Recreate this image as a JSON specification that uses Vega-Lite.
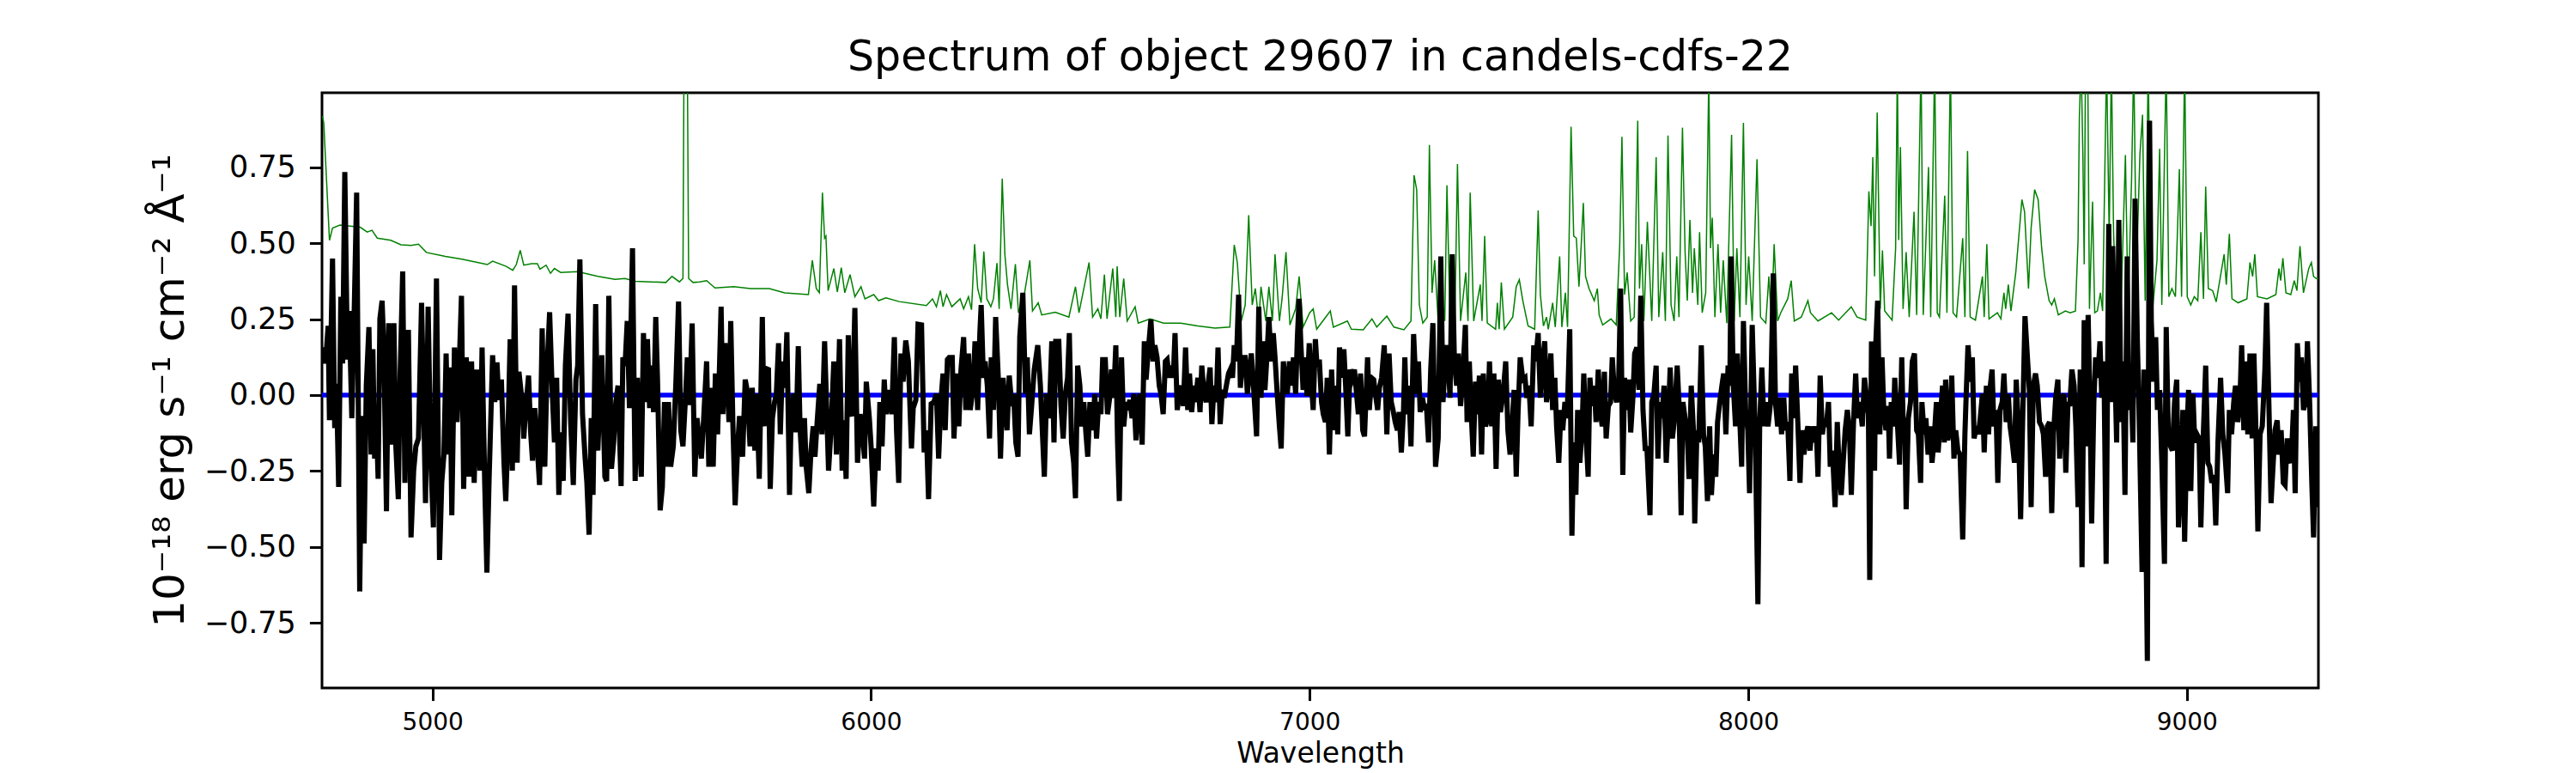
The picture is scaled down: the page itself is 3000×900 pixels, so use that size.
{
  "$schema": "https://vega.github.io/schema/vega-lite/v6.json",
  "width": 2325,
  "height": 693,
  "autosize": {"type": "none"},
  "padding": {"left": 375, "top": 108, "right": 300, "bottom": 99},
  "background": "white",
  "title": {
    "text": "Spectrum of object 29607 in candels-cdfs-22",
    "font": "DejaVu Sans",
    "fontSize": 49,
    "fontWeight": "normal",
    "color": "black",
    "anchor": "middle",
    "offset": 16
  },
  "datasets": {
    "noise": [
      {"w":4749,"e":0.92},{"w":4752,"e":0.897},{"w":4765,"e":0.51},{"w":4772,"e":0.55},{"w":4789,"e":0.56},{"w":4835,"e":0.553},{"w":4851,"e":0.537},{"w":4862,"e":0.543},{"w":4874,"e":0.517},{"w":4905,"e":0.51},{"w":4928,"e":0.495},{"w":4951,"e":0.493},{"w":4968,"e":0.497},{"w":4986,"e":0.47},{"w":5029,"e":0.457},{"w":5067,"e":0.448},{"w":5125,"e":0.43},{"w":5137,"e":0.441},{"w":5168,"e":0.424},{"w":5183,"e":0.411},{"w":5191,"e":0.43},{"w":5200,"e":0.477},{"w":5208,"e":0.428},{"w":5226,"e":0.433},{"w":5239,"e":0.433},{"w":5245,"e":0.415},{"w":5259,"e":0.428},{"w":5269,"e":0.401},{"w":5278,"e":0.417},{"w":5292,"e":0.404},{"w":5331,"e":0.407},{"w":5377,"e":0.391},{"w":5416,"e":0.381},{"w":5439,"e":0.384},{"w":5462,"e":0.375},{"w":5532,"e":0.371},{"w":5546,"e":0.391},{"w":5563,"e":0.373},{"w":5571,"e":0.384},{"w":5575,"e":1.6},{"w":5579,"e":1.6},{"w":5584,"e":0.384},{"w":5594,"e":0.371},{"w":5609,"e":0.373},{"w":5625,"e":0.377},{"w":5644,"e":0.353},{"w":5687,"e":0.357},{"w":5725,"e":0.351},{"w":5768,"e":0.351},{"w":5803,"e":0.337},{"w":5857,"e":0.331},{"w":5866,"e":0.444},{"w":5875,"e":0.351},{"w":5882,"e":0.337},{"w":5889,"e":0.667},{"w":5894,"e":0.517},{"w":5897,"e":0.524},{"w":5902,"e":0.344},{"w":5915,"e":0.417},{"w":5923,"e":0.34},{"w":5932,"e":0.42},{"w":5940,"e":0.337},{"w":5952,"e":0.397},{"w":5963,"e":0.324},{"w":5977,"e":0.357},{"w":5986,"e":0.317},{"w":6006,"e":0.331},{"w":6017,"e":0.311},{"w":6034,"e":0.32},{"w":6064,"e":0.308},{"w":6126,"e":0.295},{"w":6140,"e":0.317},{"w":6149,"e":0.291},{"w":6158,"e":0.344},{"w":6164,"e":0.291},{"w":6172,"e":0.331},{"w":6184,"e":0.291},{"w":6203,"e":0.317},{"w":6211,"e":0.284},{"w":6222,"e":0.324},{"w":6229,"e":0.281},{"w":6236,"e":0.497},{"w":6243,"e":0.351},{"w":6251,"e":0.304},{"w":6257,"e":0.473},{"w":6264,"e":0.317},{"w":6273,"e":0.291},{"w":6279,"e":0.317},{"w":6287,"e":0.435},{"w":6292,"e":0.284},{"w":6299,"e":0.713},{"w":6305,"e":0.464},{"w":6311,"e":0.364},{"w":6319,"e":0.284},{"w":6329,"e":0.431},{"w":6336,"e":0.271},{"w":6350,"e":0.337},{"w":6362,"e":0.444},{"w":6368,"e":0.277},{"w":6381,"e":0.304},{"w":6389,"e":0.264},{"w":6420,"e":0.273},{"w":6451,"e":0.257},{"w":6466,"e":0.357},{"w":6474,"e":0.271},{"w":6497,"e":0.437},{"w":6505,"e":0.257},{"w":6517,"e":0.284},{"w":6524,"e":0.251},{"w":6532,"e":0.397},{"w":6538,"e":0.251},{"w":6551,"e":0.417},{"w":6558,"e":0.257},{"w":6561,"e":0.424},{"w":6567,"e":0.257},{"w":6576,"e":0.384},{"w":6584,"e":0.244},{"w":6602,"e":0.291},{"w":6609,"e":0.237},{"w":6636,"e":0.251},{"w":6667,"e":0.237},{"w":6706,"e":0.237},{"w":6745,"e":0.228},{"w":6784,"e":0.221},{"w":6818,"e":0.224},{"w":6828,"e":0.495},{"w":6835,"e":0.437},{"w":6844,"e":0.244},{"w":6853,"e":0.297},{"w":6861,"e":0.593},{"w":6869,"e":0.297},{"w":6876,"e":0.351},{"w":6884,"e":0.244},{"w":6889,"e":0.357},{"w":6900,"e":0.244},{"w":6907,"e":0.357},{"w":6915,"e":0.244},{"w":6921,"e":0.464},{"w":6931,"e":0.244},{"w":6937,"e":0.317},{"w":6946,"e":0.471},{"w":6955,"e":0.231},{"w":6968,"e":0.284},{"w":6976,"e":0.391},{"w":6985,"e":0.224},{"w":7000,"e":0.271},{"w":7008,"e":0.284},{"w":7016,"e":0.217},{"w":7047,"e":0.277},{"w":7054,"e":0.224},{"w":7086,"e":0.244},{"w":7095,"e":0.217},{"w":7122,"e":0.215},{"w":7142,"e":0.251},{"w":7153,"e":0.224},{"w":7176,"e":0.26},{"w":7192,"e":0.224},{"w":7215,"e":0.215},{"w":7231,"e":0.244},{"w":7238,"e":0.724},{"w":7244,"e":0.677},{"w":7250,"e":0.297},{"w":7258,"e":0.237},{"w":7268,"e":0.257},{"w":7273,"e":0.824},{"w":7279,"e":0.337},{"w":7285,"e":0.444},{"w":7293,"e":0.244},{"w":7300,"e":0.324},{"w":7308,"e":0.244},{"w":7313,"e":0.691},{"w":7320,"e":0.244},{"w":7326,"e":0.324},{"w":7331,"e":0.244},{"w":7337,"e":0.761},{"w":7344,"e":0.244},{"w":7356,"e":0.404},{"w":7361,"e":0.244},{"w":7366,"e":0.667},{"w":7374,"e":0.244},{"w":7389,"e":0.364},{"w":7393,"e":0.244},{"w":7399,"e":0.524},{"w":7405,"e":0.237},{"w":7424,"e":0.217},{"w":7428,"e":0.304},{"w":7432,"e":0.217},{"w":7437,"e":0.371},{"w":7444,"e":0.217},{"w":7463,"e":0.257},{"w":7471,"e":0.357},{"w":7478,"e":0.38},{"w":7486,"e":0.311},{"w":7498,"e":0.228},{"w":7513,"e":0.217},{"w":7521,"e":0.608},{"w":7526,"e":0.331},{"w":7533,"e":0.228},{"w":7540,"e":0.257},{"w":7544,"e":0.217},{"w":7554,"e":0.304},{"w":7560,"e":0.224},{"w":7570,"e":0.457},{"w":7575,"e":0.224},{"w":7583,"e":0.337},{"w":7588,"e":0.224},{"w":7596,"e":0.884},{"w":7602,"e":0.524},{"w":7608,"e":0.517},{"w":7614,"e":0.357},{"w":7619,"e":0.491},{"w":7624,"e":0.633},{"w":7629,"e":0.391},{"w":7637,"e":0.351},{"w":7649,"e":0.311},{"w":7656,"e":0.351},{"w":7660,"e":0.264},{"w":7668,"e":0.231},{"w":7687,"e":0.251},{"w":7699,"e":0.231},{"w":7707,"e":0.497},{"w":7712,"e":0.851},{"w":7718,"e":0.331},{"w":7724,"e":0.404},{"w":7732,"e":0.244},{"w":7740,"e":0.257},{"w":7748,"e":0.904},{"w":7752,"e":0.351},{"w":7757,"e":0.497},{"w":7762,"e":0.244},{"w":7770,"e":0.571},{"w":7776,"e":0.377},{"w":7780,"e":0.244},{"w":7790,"e":0.784},{"w":7796,"e":0.257},{"w":7805,"e":0.471},{"w":7811,"e":0.244},{"w":7817,"e":0.855},{"w":7824,"e":0.297},{"w":7831,"e":0.244},{"w":7837,"e":0.457},{"w":7842,"e":0.257},{"w":7850,"e":0.881},{"w":7856,"e":0.471},{"w":7861,"e":0.311},{"w":7867,"e":0.577},{"w":7873,"e":0.337},{"w":7877,"e":0.484},{"w":7885,"e":0.297},{"w":7889,"e":0.537},{"w":7895,"e":0.271},{"w":7903,"e":0.337},{"w":7910,"e":1.05},{"w":7914,"e":0.484},{"w":7918,"e":0.584},{"w":7924,"e":0.257},{"w":7931,"e":0.497},{"w":7937,"e":0.271},{"w":7943,"e":0.444},{"w":7951,"e":0.237},{"w":7962,"e":0.857},{"w":7968,"e":0.244},{"w":7974,"e":0.484},{"w":7981,"e":0.257},{"w":7989,"e":0.897},{"w":7995,"e":0.297},{"w":8001,"e":0.457},{"w":8009,"e":0.244},{"w":8020,"e":0.777},{"w":8028,"e":0.257},{"w":8040,"e":0.237},{"w":8047,"e":0.391},{"w":8053,"e":0.244},{"w":8059,"e":0.497},{"w":8067,"e":0.244},{"w":8074,"e":0.271},{"w":8090,"e":0.317},{"w":8098,"e":0.377},{"w":8105,"e":0.244},{"w":8121,"e":0.257},{"w":8136,"e":0.311},{"w":8142,"e":0.271},{"w":8159,"e":0.244},{"w":8190,"e":0.271},{"w":8206,"e":0.247},{"w":8235,"e":0.291},{"w":8248,"e":0.257},{"w":8268,"e":0.247},{"w":8275,"e":0.671},{"w":8280,"e":0.557},{"w":8284,"e":0.784},{"w":8288,"e":0.391},{"w":8294,"e":0.931},{"w":8301,"e":0.284},{"w":8306,"e":0.477},{"w":8311,"e":0.277},{"w":8328,"e":0.247},{"w":8336,"e":0.484},{"w":8340,"e":1.1},{"w":8343,"e":0.511},{"w":8347,"e":0.817},{"w":8353,"e":0.284},{"w":8360,"e":0.471},{"w":8367,"e":0.257},{"w":8378,"e":0.604},{"w":8384,"e":0.264},{"w":8394,"e":1.1},{"w":8399,"e":0.264},{"w":8411,"e":0.751},{"w":8416,"e":0.257},{"w":8425,"e":1.1},{"w":8431,"e":0.271},{"w":8436,"e":0.257},{"w":8448,"e":0.657},{"w":8453,"e":0.271},{"w":8461,"e":1.1},{"w":8467,"e":0.271},{"w":8475,"e":0.257},{"w":8489,"e":0.517},{"w":8494,"e":0.257},{"w":8500,"e":0.804},{"w":8506,"e":0.257},{"w":8518,"e":0.247},{"w":8534,"e":0.391},{"w":8538,"e":0.257},{"w":8544,"e":0.497},{"w":8549,"e":0.251},{"w":8568,"e":0.271},{"w":8576,"e":0.251},{"w":8583,"e":0.337},{"w":8587,"e":0.284},{"w":8593,"e":0.364},{"w":8599,"e":0.277},{"w":8610,"e":0.404},{"w":8624,"e":0.644},{"w":8630,"e":0.604},{"w":8639,"e":0.351},{"w":8645,"e":0.551},{"w":8653,"e":0.677},{"w":8661,"e":0.644},{"w":8669,"e":0.484},{"w":8676,"e":0.391},{"w":8686,"e":0.311},{"w":8692,"e":0.297},{"w":8698,"e":0.317},{"w":8707,"e":0.264},{"w":8723,"e":0.277},{"w":8734,"e":0.271},{"w":8746,"e":0.277},{"w":8752,"e":0.511},{"w":8755,"e":0.917},{"w":8759,"e":1.1},{"w":8763,"e":0.791},{"w":8766,"e":0.431},{"w":8769,"e":1.1},{"w":8774,"e":1.1},{"w":8778,"e":0.284},{"w":8785,"e":0.637},{"w":8790,"e":0.271},{"w":8796,"e":0.277},{"w":8803,"e":0.337},{"w":8808,"e":0.277},{"w":8817,"e":1.1},{"w":8823,"e":0.524},{"w":8828,"e":1.1},{"w":8833,"e":0.537},{"w":8839,"e":0.277},{"w":8850,"e":0.297},{"w":8860,"e":0.791},{"w":8866,"e":0.284},{"w":8874,"e":0.711},{"w":8879,"e":1.1},{"w":8885,"e":0.404},{"w":8893,"e":0.791},{"w":8899,"e":0.924},{"w":8905,"e":0.311},{"w":8912,"e":1.1},{"w":8918,"e":0.337},{"w":8922,"e":0.284},{"w":8932,"e":0.444},{"w":8938,"e":0.811},{"w":8943,"e":0.297},{"w":8953,"e":1.1},{"w":8959,"e":0.324},{"w":8966,"e":0.351},{"w":8974,"e":0.324},{"w":8983,"e":0.744},{"w":8988,"e":0.324},{"w":8995,"e":1.1},{"w":9001,"e":0.324},{"w":9009,"e":0.297},{"w":9017,"e":0.324},{"w":9025,"e":0.311},{"w":9032,"e":0.537},{"w":9038,"e":0.317},{"w":9043,"e":0.687},{"w":9049,"e":0.351},{"w":9059,"e":0.344},{"w":9067,"e":0.307},{"w":9085,"e":0.464},{"w":9090,"e":0.364},{"w":9097,"e":0.531},{"w":9103,"e":0.317},{"w":9117,"e":0.304},{"w":9137,"e":0.317},{"w":9144,"e":0.437},{"w":9150,"e":0.391},{"w":9155,"e":0.464},{"w":9161,"e":0.324},{"w":9183,"e":0.317},{"w":9203,"e":0.331},{"w":9210,"e":0.417},{"w":9214,"e":0.377},{"w":9219,"e":0.451},{"w":9226,"e":0.337},{"w":9237,"e":0.331},{"w":9245,"e":0.377},{"w":9251,"e":0.344},{"w":9258,"e":0.491},{"w":9266,"e":0.337},{"w":9278,"e":0.417},{"w":9284,"e":0.437},{"w":9289,"e":0.391},{"w":9295,"e":0.384},{"w":9300,"e":0.384}
    ],
    "flux": [
      {"w":4749,"f":0.12},{"w":4752,"f":0.157},{"w":4756,"f":0.104},{"w":4762,"f":0.228},{"w":4765,"f":-0.083},{"w":4772,"f":0.45},{"w":4777,"f":-0.109},{"w":4781,"f":0.037},{"w":4786,"f":-0.303},{"w":4791,"f":0.324},{"w":4795,"f":0.104},{"w":4800,"f":0.735},{"w":4806,"f":0.117},{"w":4810,"f":0.277},{"w":4816,"f":-0.076},{"w":4821,"f":0.244},{"w":4827,"f":0.667},{"w":4834,"f":-0.647},{"w":4839,"f":-0.069},{"w":4844,"f":-0.489},{"w":4849,"f":0.031},{"w":4855,"f":0.224},{"w":4860,"f":-0.196},{"w":4864,"f":0.151},{"w":4868,"f":-0.209},{"w":4872,"f":-0.089},{"w":4876,"f":-0.276},{"w":4880,"f":0.251},{"w":4885,"f":0.311},{"w":4889,"f":0.151},{"w":4895,"f":-0.383},{"w":4900,"f":0.237},{"w":4906,"f":-0.163},{"w":4912,"f":0.237},{"w":4916,"f":-0.156},{"w":4922,"f":-0.343},{"w":4926,"f":0.057},{"w":4932,"f":0.407},{"w":4937,"f":-0.289},{"w":4940,"f":0.071},{"w":4945,"f":0.215},{"w":4951,"f":-0.469},{"w":4957,"f":-0.249},{"w":4962,"f":-0.169},{"w":4968,"f":-0.143},{"w":4975,"f":0.304},{"w":4979,"f":0.031},{"w":4984,"f":-0.356},{"w":4990,"f":0.291},{"w":4996,"f":-0.209},{"w":5002,"f":-0.436},{"w":5009,"f":0.384},{"w":5016,"f":-0.543},{"w":5021,"f":-0.289},{"w":5026,"f":-0.196},{"w":5031,"f":0.137},{"w":5036,"f":-0.196},{"w":5040,"f":0.091},{"w":5044,"f":-0.396},{"w":5050,"f":0.157},{"w":5056,"f":-0.089},{"w":5060,"f":0.057},{"w":5066,"f":0.327},{"w":5071,"f":-0.309},{"w":5077,"f":0.124},{"w":5083,"f":-0.269},{"w":5089,"f":0.111},{"w":5095,"f":-0.289},{"w":5101,"f":0.084},{"w":5108,"f":-0.249},{"w":5113,"f":0.157},{"w":5119,"f":-0.289},{"w":5124,"f":-0.585},{"w":5129,"f":-0.276},{"w":5137,"f":0.131},{"w":5142,"f":-0.023},{"w":5147,"f":0.108},{"w":5151,"f":-0.016},{"w":5157,"f":0.051},{"w":5163,"f":-0.223},{"w":5167,"f":-0.349},{"w":5172,"f":-0.129},{"w":5177,"f":0.184},{"w":5182,"f":-0.249},{"w":5187,"f":0.361},{"w":5193,"f":-0.223},{"w":5197,"f":0.077},{"w":5204,"f":-0.016},{"w":5208,"f":-0.143},{"w":5213,"f":-0.036},{"w":5219,"f":0.064},{"w":5224,"f":-0.129},{"w":5228,"f":-0.216},{"w":5233,"f":-0.043},{"w":5238,"f":-0.149},{"w":5244,"f":-0.296},{"w":5250,"f":0.22},{"w":5256,"f":-0.236},{"w":5261,"f":0.084},{"w":5267,"f":0.273},{"w":5273,"f":0.011},{"w":5278,"f":-0.156},{"w":5283,"f":0.057},{"w":5288,"f":-0.329},{"w":5293,"f":-0.123},{"w":5298,"f":-0.283},{"w":5303,"f":0.097},{"w":5309,"f":0.268},{"w":5315,"f":-0.089},{"w":5321,"f":-0.296},{"w":5327,"f":0.051},{"w":5331,"f":0.097},{"w":5336,"f":0.447},{"w":5342,"f":-0.063},{"w":5348,"f":-0.209},{"w":5352,"f":-0.289},{"w":5357,"f":-0.46},{"w":5362,"f":-0.076},{"w":5366,"f":-0.329},{"w":5372,"f":0.3},{"w":5377,"f":-0.183},{"w":5382,"f":0.004},{"w":5386,"f":0.131},{"w":5393,"f":-0.269},{"w":5397,"f":-0.283},{"w":5402,"f":0.327},{"w":5408,"f":-0.243},{"w":5413,"f":-0.156},{"w":5418,"f":-0.023},{"w":5423,"f":0.031},{"w":5430,"f":-0.3},{"w":5434,"f":0.124},{"w":5439,"f":0.097},{"w":5444,"f":0.244},{"w":5449,"f":-0.043},{"w":5456,"f":0.484},{"w":5462,"f":-0.283},{"w":5467,"f":0.057},{"w":5472,"f":-0.143},{"w":5476,"f":-0.269},{"w":5481,"f":0.204},{"w":5485,"f":-0.023},{"w":5490,"f":0.184},{"w":5495,"f":-0.043},{"w":5499,"f":0.097},{"w":5504,"f":-0.056},{"w":5509,"f":0.257},{"w":5513,"f":0.051},{"w":5519,"f":-0.38},{"w":5524,"f":-0.303},{"w":5529,"f":-0.023},{"w":5533,"f":-0.236},{"w":5538,"f":-0.023},{"w":5543,"f":-0.236},{"w":5549,"f":-0.169},{"w":5555,"f":0.044},{"w":5561,"f":0.308},{"w":5566,"f":-0.116},{"w":5571,"f":-0.169},{"w":5577,"f":-0.003},{"w":5581,"f":0.124},{"w":5586,"f":-0.033},{"w":5592,"f":0.236},{"w":5598,"f":-0.269},{"w":5603,"f":-0.076},{"w":5608,"f":-0.143},{"w":5613,"f":-0.209},{"w":5618,"f":-0.083},{"w":5625,"f":0.111},{"w":5630,"f":-0.236},{"w":5635,"f":0.024},{"w":5640,"f":-0.236},{"w":5645,"f":0.071},{"w":5650,"f":-0.129},{"w":5654,"f":0.077},{"w":5658,"f":0.291},{"w":5662,"f":-0.063},{"w":5667,"f":0.171},{"w":5671,"f":0.071},{"w":5676,"f":-0.089},{"w":5680,"f":0.244},{"w":5685,"f":-0.103},{"w":5690,"f":-0.363},{"w":5696,"f":-0.163},{"w":5700,"f":-0.069},{"w":5707,"f":-0.203},{"w":5713,"f":0.051},{"w":5718,"f":0.011},{"w":5724,"f":-0.169},{"w":5729,"f":0.024},{"w":5735,"f":-0.183},{"w":5739,"f":0.004},{"w":5745,"f":-0.276},{"w":5752,"f":0.257},{"w":5756,"f":-0.103},{"w":5761,"f":0.087},{"w":5766,"f":0.084},{"w":5770,"f":-0.309},{"w":5775,"f":-0.076},{"w":5780,"f":-0.023},{"w":5784,"f":0.004},{"w":5789,"f":0.171},{"w":5793,"f":-0.129},{"w":5798,"f":0.111},{"w":5803,"f":0.024},{"w":5808,"f":0.207},{"w":5814,"f":-0.329},{"w":5818,"f":-0.049},{"w":5824,"f":0.004},{"w":5829,"f":-0.123},{"w":5834,"f":0.161},{"w":5838,"f":-0.109},{"w":5843,"f":-0.236},{"w":5848,"f":-0.076},{"w":5852,"f":-0.236},{"w":5858,"f":-0.323},{"w":5863,"f":-0.183},{"w":5868,"f":-0.103},{"w":5872,"f":-0.203},{"w":5877,"f":-0.089},{"w":5883,"f":0.037},{"w":5888,"f":-0.129},{"w":5894,"f":0.177},{"w":5903,"f":-0.249},{"w":5909,"f":-0.103},{"w":5915,"f":0.111},{"w":5921,"f":-0.196},{"w":5928,"f":0.184},{"w":5934,"f":-0.249},{"w":5938,"f":-0.083},{"w":5943,"f":-0.276},{"w":5948,"f":0.197},{"w":5952,"f":-0.049},{"w":5957,"f":-0.069},{"w":5963,"f":0.287},{"w":5969,"f":-0.223},{"w":5975,"f":-0.063},{"w":5980,"f":-0.116},{"w":5985,"f":-0.209},{"w":5989,"f":0.044},{"w":5996,"f":-0.076},{"w":6000,"f":-0.169},{"w":6006,"f":-0.367},{"w":6011,"f":-0.176},{"w":6016,"f":-0.249},{"w":6020,"f":-0.023},{"w":6025,"f":-0.169},{"w":6030,"f":0.051},{"w":6034,"f":-0.063},{"w":6041,"f":0.017},{"w":6047,"f":-0.063},{"w":6053,"f":0.191},{"w":6058,"f":-0.116},{"w":6063,"f":-0.289},{"w":6068,"f":0.137},{"w":6073,"f":0.044},{"w":6079,"f":0.18},{"w":6085,"f":0.111},{"w":6092,"f":-0.176},{"w":6096,"f":-0.043},{"w":6102,"f":-0.016},{"w":6107,"f":0.233},{"w":6115,"f":0.231},{"w":6121,"f":-0.189},{"w":6126,"f":-0.116},{"w":6131,"f":-0.343},{"w":6137,"f":-0.029},{"w":6143,"f":-0.023},{"w":6149,"f":0.004},{"w":6154,"f":-0.209},{"w":6159,"f":-0.023},{"w":6164,"f":0.071},{"w":6169,"f":-0.116},{"w":6174,"f":0.117},{"w":6178,"f":0.124},{"w":6185,"f":0.124},{"w":6189,"f":-0.143},{"w":6195,"f":0.071},{"w":6200,"f":-0.103},{"w":6205,"f":0.084},{"w":6211,"f":0.191},{"w":6216,"f":-0.049},{"w":6222,"f":0.137},{"w":6226,"f":-0.049},{"w":6232,"f":0.017},{"w":6237,"f":0.177},{"w":6243,"f":-0.049},{"w":6248,"f":0.204},{"w":6251,"f":0.297},{"w":6256,"f":0.057},{"w":6260,"f":0.111},{"w":6265,"f":0.031},{"w":6270,"f":-0.143},{"w":6274,"f":0.124},{"w":6279,"f":-0.049},{"w":6284,"f":0.257},{"w":6290,"f":0.057},{"w":6295,"f":-0.209},{"w":6301,"f":0.057},{"w":6306,"f":-0.049},{"w":6310,"f":-0.116},{"w":6315,"f":0.064},{"w":6321,"f":-0.036},{"w":6325,"f":0.004},{"w":6330,"f":-0.156},{"w":6335,"f":-0.203},{"w":6339,"f":0.191},{"w":6346,"f":0.337},{"w":6352,"f":0.004},{"w":6356,"f":0.124},{"w":6361,"f":-0.129},{"w":6366,"f":-0.036},{"w":6372,"f":0.084},{"w":6380,"f":0.164},{"w":6386,"f":0.031},{"w":6390,"f":-0.103},{"w":6395,"f":-0.269},{"w":6400,"f":0.004},{"w":6406,"f":-0.076},{"w":6412,"f":0.177},{"w":6417,"f":-0.156},{"w":6421,"f":0.177},{"w":6428,"f":0.177},{"w":6433,"f":-0.036},{"w":6438,"f":-0.143},{"w":6443,"f":0.004},{"w":6448,"f":0.057},{"w":6452,"f":0.204},{"w":6457,"f":-0.156},{"w":6462,"f":-0.223},{"w":6466,"f":-0.34},{"w":6471,"f":0.097},{"w":6476,"f":0.031},{"w":6480,"f":-0.103},{"w":6485,"f":-0.023},{"w":6490,"f":-0.129},{"w":6494,"f":-0.203},{"w":6499,"f":-0.023},{"w":6505,"f":-0.116},{"w":6510,"f":0.004},{"w":6514,"f":-0.143},{"w":6519,"f":-0.023},{"w":6524,"f":-0.063},{"w":6528,"f":0.117},{"w":6534,"f":0.117},{"w":6539,"f":-0.063},{"w":6544,"f":-0.009},{"w":6548,"f":0.084},{"w":6553,"f":-0.009},{"w":6558,"f":0.164},{"w":6562,"f":-0.156},{"w":6566,"f":-0.349},{"w":6571,"f":0.124},{"w":6576,"f":-0.103},{"w":6581,"f":-0.023},{"w":6585,"f":-0.049},{"w":6590,"f":-0.016},{"w":6595,"f":-0.076},{"w":6599,"f":0.004},{"w":6604,"f":-0.149},{"w":6609,"f":-0.023},{"w":6613,"f":0.004},{"w":6618,"f":-0.163},{"w":6623,"f":0.177},{"w":6627,"f":0.051},{"w":6633,"f":0.164},{"w":6638,"f":0.249},{"w":6643,"f":0.111},{"w":6647,"f":0.164},{"w":6652,"f":0.124},{"w":6657,"f":0.031},{"w":6661,"f":0.004},{"w":6666,"f":-0.063},{"w":6671,"f":0.111},{"w":6675,"f":0.117},{"w":6680,"f":0.057},{"w":6685,"f":0.097},{"w":6689,"f":0.057},{"w":6693,"f":0.204},{"w":6698,"f":-0.049},{"w":6703,"f":0.004},{"w":6708,"f":0.031},{"w":6712,"f":-0.036},{"w":6717,"f":0.157},{"w":6722,"f":-0.049},{"w":6726,"f":0.071},{"w":6731,"f":-0.056},{"w":6736,"f":0.031},{"w":6740,"f":-0.023},{"w":6745,"f":0.057},{"w":6750,"f":-0.056},{"w":6754,"f":0.097},{"w":6759,"f":0.004},{"w":6764,"f":-0.023},{"w":6768,"f":0.031},{"w":6773,"f":0.091},{"w":6777,"f":-0.096},{"w":6782,"f":0.031},{"w":6787,"f":-0.023},{"w":6791,"f":0.157},{"w":6796,"f":-0.096},{"w":6801,"f":0.017},{"w":6805,"f":-0.009},{"w":6810,"f":0.031},{"w":6815,"f":0.071},{"w":6819,"f":0.084},{"w":6824,"f":0.057},{"w":6828,"f":0.164},{"w":6833,"f":0.111},{"w":6838,"f":0.331},{"w":6842,"f":0.024},{"w":6847,"f":0.124},{"w":6853,"f":0.124},{"w":6858,"f":0.004},{"w":6863,"f":0.084},{"w":6867,"f":0.137},{"w":6873,"f":0.004},{"w":6879,"f":-0.136},{"w":6884,"f":0.291},{"w":6889,"f":-0.009},{"w":6894,"f":0.177},{"w":6898,"f":0.017},{"w":6903,"f":0.137},{"w":6907,"f":0.257},{"w":6912,"f":0.111},{"w":6917,"f":0.204},{"w":6921,"f":0.124},{"w":6926,"f":0.004},{"w":6931,"f":-0.103},{"w":6935,"f":-0.176},{"w":6940,"f":0.111},{"w":6945,"f":0.031},{"w":6949,"f":0.004},{"w":6954,"f":0.111},{"w":6959,"f":0.031},{"w":6963,"f":0.124},{"w":6968,"f":0.004},{"w":6972,"f":0.191},{"w":6976,"f":0.317},{"w":6980,"f":0.164},{"w":6985,"f":0.017},{"w":6989,"f":0.124},{"w":6994,"f":-0.003},{"w":6999,"f":0.171},{"w":7003,"f":0.057},{"w":7008,"f":-0.049},{"w":7013,"f":0.184},{"w":7017,"f":0.091},{"w":7022,"f":0.117},{"w":7027,"f":-0.023},{"w":7031,"f":-0.063},{"w":7036,"f":-0.089},{"w":7040,"f":0.057},{"w":7045,"f":-0.196},{"w":7050,"f":0.084},{"w":7055,"f":-0.116},{"w":7059,"f":0.031},{"w":7064,"f":-0.129},{"w":7068,"f":0.157},{"w":7073,"f":0.057},{"w":7078,"f":0.151},{"w":7082,"f":0.031},{"w":7087,"f":-0.136},{"w":7092,"f":0.084},{"w":7097,"f":0.057},{"w":7102,"f":0.084},{"w":7111,"f":-0.063},{"w":7116,"f":0.071},{"w":7121,"f":-0.116},{"w":7125,"f":-0.136},{"w":7132,"f":0.124},{"w":7136,"f":-0.049},{"w":7141,"f":0.057},{"w":7146,"f":0.051},{"w":7150,"f":0.004},{"w":7155,"f":-0.049},{"w":7159,"f":0.024},{"w":7164,"f":0.057},{"w":7170,"f":0.164},{"w":7176,"f":-0.129},{"w":7181,"f":0.137},{"w":7186,"f":-0.023},{"w":7190,"f":-0.049},{"w":7195,"f":-0.089},{"w":7200,"f":-0.116},{"w":7204,"f":-0.056},{"w":7209,"f":-0.189},{"w":7214,"f":-0.049},{"w":7217,"f":0.124},{"w":7221,"f":-0.063},{"w":7226,"f":0.031},{"w":7231,"f":-0.169},{"w":7237,"f":0.201},{"w":7243,"f":0.004},{"w":7248,"f":0.111},{"w":7252,"f":-0.056},{"w":7257,"f":-0.009},{"w":7262,"f":-0.049},{"w":7266,"f":-0.029},{"w":7271,"f":-0.156},{"w":7276,"f":0.084},{"w":7281,"f":0.237},{"w":7287,"f":-0.236},{"w":7293,"f":-0.143},{"w":7299,"f":0.457},{"w":7304,"f":-0.023},{"w":7310,"f":0.137},{"w":7314,"f":0.164},{"w":7320,"f":-0.009},{"w":7325,"f":0.464},{"w":7330,"f":0.111},{"w":7335,"f":0.031},{"w":7339,"f":0.137},{"w":7344,"f":-0.036},{"w":7348,"f":0.031},{"w":7355,"f":0.231},{"w":7359,"f":-0.089},{"w":7364,"f":0.111},{"w":7368,"f":-0.049},{"w":7373,"f":-0.203},{"w":7378,"f":0.044},{"w":7382,"f":-0.063},{"w":7387,"f":0.064},{"w":7392,"f":-0.196},{"w":7396,"f":0.071},{"w":7401,"f":-0.103},{"w":7406,"f":-0.076},{"w":7410,"f":0.111},{"w":7415,"f":-0.103},{"w":7420,"f":0.071},{"w":7425,"f":-0.243},{"w":7430,"f":0.051},{"w":7435,"f":-0.056},{"w":7441,"f":0.004},{"w":7447,"f":0.111},{"w":7452,"f":-0.116},{"w":7457,"f":-0.196},{"w":7461,"f":-0.116},{"w":7466,"f":0.017},{"w":7471,"f":-0.269},{"w":7475,"f":-0.063},{"w":7480,"f":0.124},{"w":7486,"f":0.051},{"w":7491,"f":0.057},{"w":7495,"f":-0.009},{"w":7500,"f":0.031},{"w":7505,"f":-0.103},{"w":7511,"f":0.164},{"w":7515,"f":0.111},{"w":7521,"f":0.204},{"w":7526,"f":-0.009},{"w":7531,"f":0.111},{"w":7536,"f":0.177},{"w":7540,"f":-0.023},{"w":7545,"f":0.031},{"w":7550,"f":0.137},{"w":7554,"f":-0.049},{"w":7559,"f":0.057},{"w":7563,"f":-0.103},{"w":7568,"f":-0.223},{"w":7573,"f":-0.049},{"w":7577,"f":-0.116},{"w":7582,"f":-0.023},{"w":7587,"f":-0.076},{"w":7593,"f":0.217},{"w":7598,"f":-0.463},{"w":7602,"f":-0.156},{"w":7607,"f":-0.329},{"w":7611,"f":-0.049},{"w":7616,"f":-0.223},{"w":7621,"f":-0.116},{"w":7625,"f":0.071},{"w":7630,"f":-0.129},{"w":7635,"f":-0.269},{"w":7639,"f":0.057},{"w":7644,"f":-0.036},{"w":7649,"f":0.031},{"w":7653,"f":-0.089},{"w":7658,"f":0.084},{"w":7663,"f":-0.056},{"w":7667,"f":-0.103},{"w":7672,"f":0.077},{"w":7676,"f":-0.143},{"w":7681,"f":-0.036},{"w":7686,"f":-0.023},{"w":7690,"f":0.124},{"w":7695,"f":0.004},{"w":7700,"f":-0.023},{"w":7704,"f":0.004},{"w":7709,"f":0.351},{"w":7714,"f":-0.263},{"w":7718,"f":0.057},{"w":7723,"f":-0.049},{"w":7728,"f":0.051},{"w":7732,"f":-0.123},{"w":7737,"f":-0.009},{"w":7741,"f":0.137},{"w":7746,"f":0.157},{"w":7751,"f":0.017},{"w":7755,"f":0.327},{"w":7760,"f":-0.049},{"w":7765,"f":-0.176},{"w":7769,"f":-0.176},{"w":7776,"f":-0.396},{"w":7780,"f":-0.023},{"w":7785,"f":0.004},{"w":7790,"f":0.097},{"w":7794,"f":-0.209},{"w":7799,"f":-0.023},{"w":7803,"f":-0.076},{"w":7808,"f":0.031},{"w":7813,"f":-0.223},{"w":7817,"f":-0.103},{"w":7822,"f":0.091},{"w":7827,"f":-0.143},{"w":7831,"f":-0.089},{"w":7838,"f":0.097},{"w":7842,"f":-0.023},{"w":7847,"f":-0.396},{"w":7851,"f":-0.023},{"w":7856,"f":-0.076},{"w":7861,"f":-0.129},{"w":7865,"f":-0.276},{"w":7870,"f":0.031},{"w":7875,"f":-0.116},{"w":7878,"f":-0.423},{"w":7883,"f":-0.116},{"w":7887,"f":-0.156},{"w":7893,"f":0.164},{"w":7898,"f":-0.129},{"w":7902,"f":-0.169},{"w":7907,"f":-0.349},{"w":7912,"f":-0.103},{"w":7916,"f":-0.329},{"w":7921,"f":-0.196},{"w":7926,"f":-0.269},{"w":7930,"f":-0.089},{"w":7935,"f":-0.023},{"w":7940,"f":0.031},{"w":7944,"f":0.071},{"w":7949,"f":-0.129},{"w":7954,"f":0.097},{"w":7958,"f":0.031},{"w":7961,"f":0.457},{"w":7966,"f":0.031},{"w":7971,"f":-0.103},{"w":7975,"f":0.137},{"w":7980,"f":-0.056},{"w":7985,"f":-0.236},{"w":7989,"f":0.244},{"w":7994,"f":-0.049},{"w":7999,"f":-0.116},{"w":8003,"f":-0.323},{"w":8009,"f":0.231},{"w":8016,"f":-0.129},{"w":8022,"f":-0.689},{"w":8026,"f":-0.103},{"w":8031,"f":0.091},{"w":8036,"f":-0.103},{"w":8040,"f":-0.023},{"w":8045,"f":-0.103},{"w":8051,"f":-0.023},{"w":8057,"f":0.401},{"w":8062,"f":-0.023},{"w":8067,"f":-0.103},{"w":8071,"f":-0.009},{"w":8076,"f":-0.129},{"w":8081,"f":-0.009},{"w":8085,"f":-0.116},{"w":8090,"f":-0.089},{"w":8095,"f":-0.283},{"w":8099,"f":0.071},{"w":8104,"f":-0.076},{"w":8108,"f":0.097},{"w":8113,"f":-0.089},{"w":8118,"f":-0.289},{"w":8122,"f":-0.116},{"w":8127,"f":-0.196},{"w":8132,"f":-0.129},{"w":8136,"f":-0.103},{"w":8141,"f":-0.183},{"w":8145,"f":-0.103},{"w":8150,"f":-0.156},{"w":8155,"f":-0.103},{"w":8159,"f":-0.269},{"w":8164,"f":0.064},{"w":8169,"f":-0.129},{"w":8173,"f":-0.083},{"w":8178,"f":-0.103},{"w":8183,"f":-0.023},{"w":8187,"f":-0.236},{"w":8192,"f":-0.183},{"w":8198,"f":-0.369},{"w":8203,"f":-0.089},{"w":8207,"f":-0.236},{"w":8212,"f":-0.329},{"w":8217,"f":-0.209},{"w":8221,"f":-0.116},{"w":8226,"f":-0.049},{"w":8231,"f":-0.129},{"w":8235,"f":-0.329},{"w":8240,"f":-0.089},{"w":8245,"f":0.071},{"w":8249,"f":-0.076},{"w":8254,"f":-0.023},{"w":8260,"f":-0.103},{"w":8265,"f":0.057},{"w":8269,"f":0.004},{"w":8274,"f":-0.063},{"w":8277,"f":-0.609},{"w":8281,"f":0.177},{"w":8288,"f":-0.249},{"w":8291,"f":0.177},{"w":8295,"f":0.311},{"w":8300,"f":-0.129},{"w":8305,"f":0.124},{"w":8309,"f":-0.049},{"w":8314,"f":-0.116},{"w":8319,"f":-0.036},{"w":8322,"f":-0.209},{"w":8326,"f":-0.023},{"w":8331,"f":-0.103},{"w":8334,"f":0.057},{"w":8339,"f":-0.063},{"w":8345,"f":-0.229},{"w":8350,"f":0.124},{"w":8354,"f":-0.156},{"w":8357,"f":-0.076},{"w":8360,"f":-0.376},{"w":8365,"f":-0.076},{"w":8370,"f":-0.023},{"w":8374,"f":0.111},{"w":8379,"f":0.137},{"w":8384,"f":-0.116},{"w":8388,"f":-0.129},{"w":8393,"f":-0.289},{"w":8396,"f":-0.023},{"w":8401,"f":-0.129},{"w":8405,"f":-0.076},{"w":8410,"f":-0.196},{"w":8415,"f":-0.103},{"w":8419,"f":-0.223},{"w":8424,"f":-0.143},{"w":8429,"f":-0.023},{"w":8433,"f":-0.189},{"w":8438,"f":-0.076},{"w":8443,"f":0.031},{"w":8447,"f":-0.156},{"w":8450,"f":0.051},{"w":8455,"f":-0.149},{"w":8460,"f":-0.103},{"w":8464,"f":0.064},{"w":8469,"f":-0.209},{"w":8473,"f":-0.116},{"w":8478,"f":-0.183},{"w":8483,"f":-0.196},{"w":8489,"f":-0.476},{"w":8494,"f":-0.129},{"w":8497,"f":0.004},{"w":8501,"f":0.164},{"w":8506,"f":0.044},{"w":8511,"f":0.124},{"w":8515,"f":-0.143},{"w":8520,"f":-0.103},{"w":8525,"f":-0.129},{"w":8529,"f":-0.076},{"w":8534,"f":0.004},{"w":8538,"f":-0.189},{"w":8543,"f":0.031},{"w":8548,"f":-0.129},{"w":8552,"f":0.031},{"w":8556,"f":0.084},{"w":8560,"f":-0.103},{"w":8565,"f":-0.049},{"w":8569,"f":-0.289},{"w":8574,"f":-0.049},{"w":8579,"f":-0.023},{"w":8583,"f":0.071},{"w":8588,"f":-0.089},{"w":8593,"f":0.004},{"w":8597,"f":-0.103},{"w":8602,"f":-0.156},{"w":8607,"f":-0.223},{"w":8611,"f":0.051},{"w":8616,"f":-0.103},{"w":8621,"f":-0.409},{"w":8625,"f":-0.129},{"w":8631,"f":0.26},{"w":8636,"f":0.137},{"w":8641,"f":0.017},{"w":8645,"f":-0.369},{"w":8650,"f":0.031},{"w":8655,"f":0.071},{"w":8659,"f":0.031},{"w":8664,"f":-0.089},{"w":8669,"f":-0.103},{"w":8673,"f":-0.129},{"w":8678,"f":-0.269},{"w":8682,"f":-0.103},{"w":8687,"f":-0.089},{"w":8692,"f":-0.389},{"w":8696,"f":-0.129},{"w":8701,"f":-0.009},{"w":8706,"f":0.051},{"w":8710,"f":-0.209},{"w":8715,"f":-0.023},{"w":8720,"f":0.004},{"w":8724,"f":-0.256},{"w":8729,"f":-0.023},{"w":8733,"f":-0.036},{"w":8738,"f":0.084},{"w":8743,"f":0.031},{"w":8747,"f":-0.103},{"w":8752,"f":-0.369},{"w":8757,"f":0.084},{"w":8761,"f":-0.567},{"w":8766,"f":0.247},{"w":8771,"f":-0.169},{"w":8775,"f":0.264},{"w":8780,"f":-0.103},{"w":8783,"f":-0.423},{"w":8788,"f":-0.023},{"w":8792,"f":0.124},{"w":8797,"f":0.057},{"w":8802,"f":0.177},{"w":8806,"f":-0.009},{"w":8811,"f":0.111},{"w":8816,"f":-0.556},{"w":8822,"f":0.564},{"w":8826,"f":-0.023},{"w":8831,"f":0.491},{"w":8836,"f":0.084},{"w":8840,"f":-0.156},{"w":8845,"f":0.577},{"w":8850,"f":-0.089},{"w":8854,"f":0.111},{"w":8859,"f":-0.329},{"w":8864,"f":0.457},{"w":8868,"f":-0.049},{"w":8873,"f":0.031},{"w":8877,"f":-0.156},{"w":8882,"f":0.647},{"w":8887,"f":0.191},{"w":8891,"f":-0.049},{"w":8898,"f":-0.583},{"w":8902,"f":0.084},{"w":8905,"f":-0.223},{"w":8910,"f":-0.876},{"w":8915,"f":0.904},{"w":8919,"f":0.244},{"w":8924,"f":0.044},{"w":8929,"f":0.191},{"w":8933,"f":-0.049},{"w":8938,"f":0.017},{"w":8943,"f":-0.223},{"w":8949,"f":-0.556},{"w":8953,"f":0.224},{"w":8958,"f":-0.143},{"w":8963,"f":-0.169},{"w":8967,"f":-0.183},{"w":8972,"f":-0.023},{"w":8977,"f":0.051},{"w":8981,"f":-0.436},{"w":8986,"f":-0.289},{"w":8991,"f":-0.049},{"w":8995,"f":-0.483},{"w":9000,"f":-0.129},{"w":9004,"f":0.017},{"w":9009,"f":-0.316},{"w":9014,"f":0.004},{"w":9018,"f":-0.156},{"w":9023,"f":-0.129},{"w":9028,"f":-0.143},{"w":9032,"f":-0.436},{"w":9037,"f":-0.156},{"w":9043,"f":0.097},{"w":9048,"f":-0.223},{"w":9052,"f":-0.236},{"w":9057,"f":-0.289},{"w":9062,"f":-0.263},{"w":9066,"f":-0.429},{"w":9071,"f":-0.156},{"w":9077,"f":0.057},{"w":9082,"f":-0.129},{"w":9087,"f":-0.196},{"w":9093,"f":-0.323},{"w":9097,"f":-0.049},{"w":9102,"f":-0.129},{"w":9107,"f":-0.023},{"w":9111,"f":0.031},{"w":9116,"f":-0.089},{"w":9121,"f":-0.023},{"w":9125,"f":0.164},{"w":9130,"f":-0.116},{"w":9134,"f":0.111},{"w":9139,"f":-0.129},{"w":9144,"f":0.137},{"w":9149,"f":-0.143},{"w":9153,"f":0.137},{"w":9158,"f":-0.143},{"w":9162,"f":-0.449},{"w":9167,"f":-0.129},{"w":9172,"f":-0.103},{"w":9178,"f":0.084},{"w":9182,"f":0.304},{"w":9187,"f":-0.023},{"w":9192,"f":-0.356},{"w":9196,"f":-0.249},{"w":9201,"f":-0.116},{"w":9206,"f":-0.083},{"w":9210,"f":-0.196},{"w":9215,"f":-0.116},{"w":9220,"f":-0.289},{"w":9224,"f":-0.296},{"w":9229,"f":-0.143},{"w":9234,"f":-0.209},{"w":9238,"f":-0.223},{"w":9243,"f":-0.049},{"w":9247,"f":-0.323},{"w":9252,"f":0.171},{"w":9257,"f":0.044},{"w":9261,"f":0.124},{"w":9266,"f":-0.049},{"w":9271,"f":-0.023},{"w":9275,"f":0.177},{"w":9280,"f":-0.023},{"w":9285,"f":-0.289},{"w":9289,"f":-0.469},{"w":9294,"f":-0.103},{"w":9298,"f":-0.369},{"w":9300,"f":-0.223}
    ],
    "model": [
      {"w":4748,"m":0},{"w":9300,"m":0}
    ]
  },
  "config": {
    "font": "DejaVu Sans",
    "view": {"stroke": "black", "strokeWidth": 3},
    "axis": {
      "grid": false,
      "domain": false,
      "ticks": true,
      "tickColor": "black",
      "tickWidth": 3,
      "tickSize": 14.6,
      "labelColor": "black",
      "labelFont": "DejaVu Sans",
      "titleFont": "DejaVu Sans",
      "titleFontWeight": "normal",
      "titleColor": "black"
    },
    "axisX": {"labelFontSize": 28, "labelPadding": 12, "titleFontSize": 33, "titlePadding": 6},
    "axisY": {"labelFontSize": 35, "labelPadding": 16, "titleFontSize": 50, "titlePadding": 14}
  },
  "layer": [
    {
      "data": {"name": "noise"},
      "mark": {"type": "line", "color": "#008000", "strokeWidth": 1.5, "clip": true},
      "encoding": {
        "x": {
          "field": "w",
          "type": "quantitative",
          "title": "Wavelength",
          "scale": {"domain": [4748, 9300], "nice": false, "zero": false},
          "axis": {"values": [5000, 6000, 7000, 8000, 9000], "format": "d"}
        },
        "y": {
          "field": "e",
          "type": "quantitative",
          "title": "10⁻¹⁸ erg s⁻¹ cm⁻² Å⁻¹",
          "scale": {"domain": [-0.965, 0.996], "nice": false, "zero": false},
          "axis": {"values": [-0.75, -0.5, -0.25, 0, 0.25, 0.5, 0.75], "format": ".2f"}
        }
      }
    },
    {
      "data": {"name": "model"},
      "mark": {"type": "line", "color": "#0000ff", "strokeWidth": 5.3, "clip": true},
      "encoding": {
        "x": {
          "field": "w",
          "type": "quantitative",
          "title": "Wavelength",
          "scale": {"domain": [4748, 9300], "nice": false, "zero": false},
          "axis": {"values": [5000, 6000, 7000, 8000, 9000], "format": "d"}
        },
        "y": {
          "field": "m",
          "type": "quantitative",
          "title": "10⁻¹⁸ erg s⁻¹ cm⁻² Å⁻¹",
          "scale": {"domain": [-0.965, 0.996], "nice": false, "zero": false},
          "axis": {"values": [-0.75, -0.5, -0.25, 0, 0.25, 0.5, 0.75], "format": ".2f"}
        }
      }
    },
    {
      "data": {"name": "flux"},
      "mark": {"type": "line", "color": "black", "strokeWidth": 6, "clip": true},
      "encoding": {
        "x": {
          "field": "w",
          "type": "quantitative",
          "title": "Wavelength",
          "scale": {"domain": [4748, 9300], "nice": false, "zero": false},
          "axis": {"values": [5000, 6000, 7000, 8000, 9000], "format": "d"}
        },
        "y": {
          "field": "f",
          "type": "quantitative",
          "title": "10⁻¹⁸ erg s⁻¹ cm⁻² Å⁻¹",
          "scale": {"domain": [-0.965, 0.996], "nice": false, "zero": false},
          "axis": {"values": [-0.75, -0.5, -0.25, 0, 0.25, 0.5, 0.75], "format": ".2f"}
        }
      }
    }
  ]
}
